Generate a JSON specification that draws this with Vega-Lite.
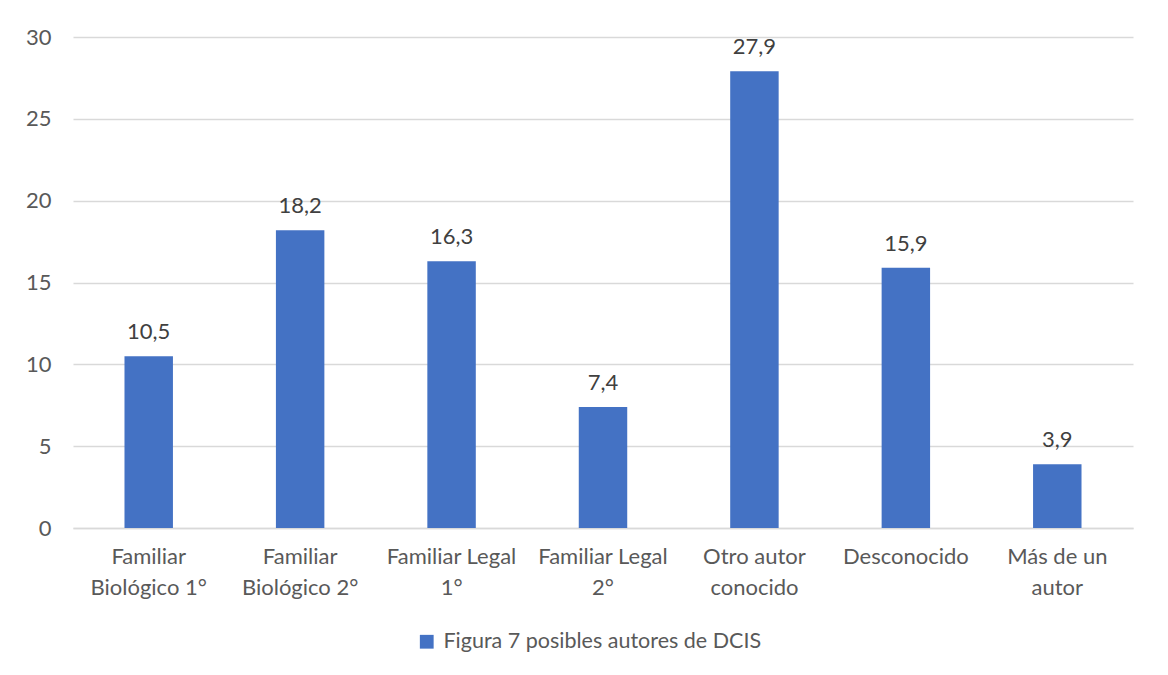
{
  "$schema": "https://vega.github.io/schema/vega-lite/v6.json",
  "autosize": "none",
  "width": 1060,
  "height": 491,
  "padding": {"left": 73, "top": 37, "right": 35, "bottom": 147},
  "background": "white",
  "config": {
    "font": "Lato",
    "view": {"stroke": null},
    "locale": {"number": {"decimal": ",", "thousands": ".", "grouping": [3], "currency": ["", " €"]}}
  },
  "data": {
    "values": [
      {"categoria": "Familiar|Biológico 1°", "orden": 1, "valor": 10.5, "serie": "Figura 7 posibles autores de DCIS"},
      {"categoria": "Familiar|Biológico 2°", "orden": 2, "valor": 18.2, "serie": "Figura 7 posibles autores de DCIS"},
      {"categoria": "Familiar Legal|1°", "orden": 3, "valor": 16.3, "serie": "Figura 7 posibles autores de DCIS"},
      {"categoria": "Familiar Legal|2°", "orden": 4, "valor": 7.4, "serie": "Figura 7 posibles autores de DCIS"},
      {"categoria": "Otro autor|conocido", "orden": 5, "valor": 27.9, "serie": "Figura 7 posibles autores de DCIS"},
      {"categoria": "Desconocido", "orden": 6, "valor": 15.9, "serie": "Figura 7 posibles autores de DCIS"},
      {"categoria": "Más de un|autor", "orden": 7, "valor": 3.9, "serie": "Figura 7 posibles autores de DCIS"}
    ]
  },
  "encoding": {
    "x": {
      "field": "categoria",
      "type": "nominal",
      "sort": {"field": "orden"},
      "scale": {"paddingInner": 0.68, "paddingOuter": 0.34},
      "axis": {
        "title": null,
        "labelAngle": 0,
        "labelExpr": "split(datum.label, '|')",
        "labelFontSize": 22,
        "labelColor": "#595959",
        "labelLineHeight": 31,
        "labelPadding": 18,
        "labelLimit": 0,
        "ticks": false,
        "domainColor": "#d9d9d9",
        "domainWidth": 1.5,
        "grid": false
      }
    },
    "y": {
      "field": "valor",
      "type": "quantitative",
      "scale": {"domain": [0, 30]},
      "axis": {
        "title": null,
        "values": [0, 5, 10, 15, 20, 25, 30],
        "labelFontSize": 22,
        "labelColor": "#595959",
        "labelPadding": 22,
        "ticks": false,
        "domain": false,
        "gridColor": "#d9d9d9",
        "gridWidth": 1.5
      }
    }
  },
  "layer": [
    {
      "mark": {"type": "bar", "color": "#4472C4"},
      "encoding": {
        "color": {
          "field": "serie",
          "type": "nominal",
          "scale": {"range": ["#4472C4"]},
          "legend": {
            "title": null,
            "orient": "none",
            "legendX": 343,
            "legendY": 594,
            "direction": "horizontal",
            "symbolType": "square",
            "symbolSize": 190,
            "symbolStrokeWidth": 0,
            "labelFontSize": 21.5,
            "labelColor": "#595959",
            "labelLimit": 0,
            "labelOffset": 6
          }
        }
      }
    },
    {
      "mark": {"type": "text", "baseline": "bottom", "dy": -12, "fontSize": 22, "color": "#404040"},
      "encoding": {
        "text": {"field": "valor", "type": "quantitative", "format": ".1f"}
      }
    }
  ]
}
